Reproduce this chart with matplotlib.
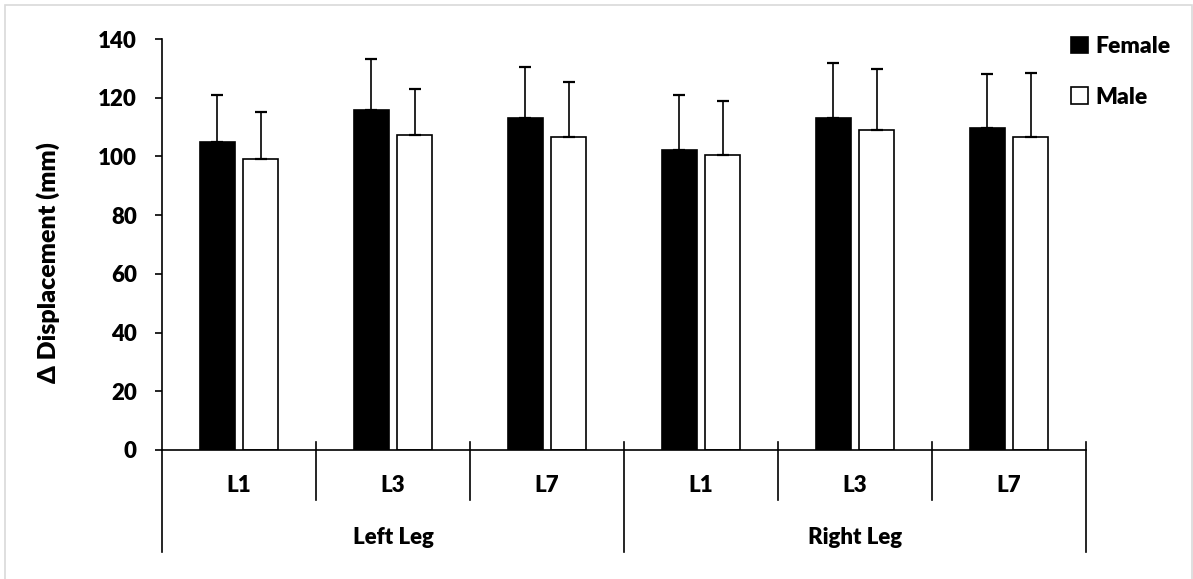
import numpy as np
import matplotlib
matplotlib.use("Agg")
import matplotlib.pyplot as plt
from matplotlib.patches import Patch, Rectangle

plt.rcParams["font.family"] = ["Lato", "DejaVu Sans"]
plt.rcParams["font.weight"] = "heavy"

# Data

groups = ["Left Leg", "Right Leg"]
levels = ["L1", "L3", "L7"]
female = [104.9, 115.7, 113.2, 102.2, 113.2, 109.7]
female_err = [16.0, 17.4, 17.2, 18.7, 18.6, 18.3]
male = [99.2, 107.2, 106.6, 100.4, 109.1, 106.5]
male_err = [15.9, 15.8, 18.6, 18.6, 20.8, 21.8]
yticks = [0, 20, 40, 60, 80, 100, 120, 140]

W, H = 1193, 579
fs = 16
wt = "heavy"
fig = plt.figure(figsize=(W/100, H/100), dpi=100)
ax = fig.add_axes([162/W, 1 - 450/H, 924/W, 411/H])

x = np.arange(len(female))
bw = 0.227
off = 0.14
lw = 1.2

ax.bar(x - off, female, bw, color="black", edgecolor="black", linewidth=lw, zorder=2)
ax.bar(x + off, male, bw, color="white", edgecolor="black", linewidth=lw, zorder=2)
ax.errorbar(x - off, female, yerr=[np.zeros(len(female)), female_err], fmt="none",
            ecolor="black", elinewidth=lw, capsize=4.3, capthick=1.6, zorder=3)
ax.errorbar(x + off, male, yerr=[np.zeros(len(male)), male_err], fmt="none",
            ecolor="black", elinewidth=lw, capsize=4.3, capthick=1.6, zorder=3)

ax.set_xlim(-0.5, len(female) - 0.5)
ax.set_ylim(0, 140)
ax.set_yticks(yticks)
ax.tick_params(axis="y", direction="out", length=5, width=lw, labelsize=fs, pad=13)
ax.set_xticks([])
for s in ["top", "right"]:
    ax.spines[s].set_visible(False)
for s in ["left", "bottom"]:
    ax.spines[s].set_linewidth(lw)
for lab in ax.get_yticklabels():
    lab.set_fontweight(wt)

# Category axis, two levels
tr = ax.get_xaxis_transform()
up = 8/411
for b in np.arange(len(female) + 1) - 0.5:
    major = (b + 0.5) % len(levels) == 0
    bottom = -102/411 if major else -50/411
    ax.plot([b, b], [up if b > -0.5 else 0, bottom], color="black", lw=lw,
            transform=tr, clip_on=False)
for i in x:
    ax.text(i, -35/411, levels[i % len(levels)], transform=tr, ha="center", va="center",
            fontsize=fs, fontweight=wt)
for g, name in enumerate(groups):
    ax.text(g*len(levels) + (len(levels) - 1)/2, -87/411, name, transform=tr,
            ha="center", va="center", fontsize=fs, fontweight=wt)

fig.text(48/W, 1 - 263/H, "Δ Displacement (mm)", rotation=90, ha="center", va="center",
         fontsize=18, fontweight=wt)

handles = [Patch(facecolor="black", edgecolor="black", linewidth=lw),
           Patch(facecolor="white", edgecolor="black", linewidth=lw)]
fig.legend(handles, ["Female", "Male"], loc="upper left",
           bbox_to_anchor=(1071/W, 1 - 36/H), frameon=False,
           handlelength=0.75, handleheight=0.75, handletextpad=0.3,
           labelspacing=1.3, borderaxespad=0, borderpad=0,
           prop={"size": fs + 0.5, "weight": wt})

fig.add_artist(Rectangle((5/W, -0.05), 1187/W, 1.05 - 5/H, transform=fig.transFigure,
                         fill=False, edgecolor="#d9d9d9", linewidth=1.2))

fig.savefig("out.png", dpi=100, facecolor="white")
